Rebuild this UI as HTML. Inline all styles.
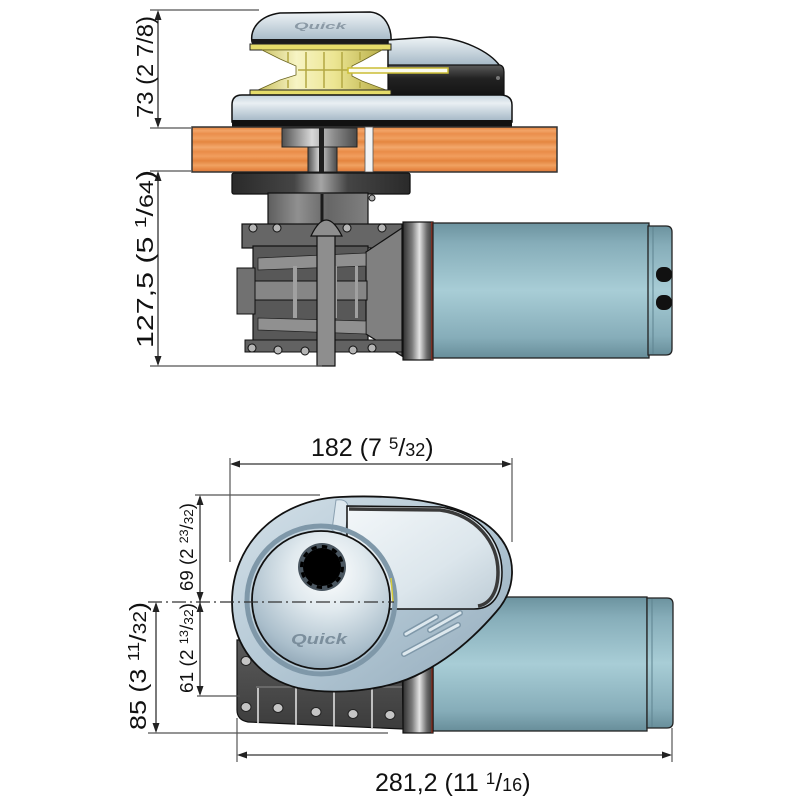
<!DOCTYPE html>
<html><head><meta charset="utf-8">
<style>html,body{margin:0;padding:0;background:#fff}svg{display:block}</style>
</head>
<body>
<svg width="800" height="800" viewBox="0 0 800 800" xmlns="http://www.w3.org/2000/svg" font-family="'Liberation Sans', Arial, sans-serif">
<defs>
 <linearGradient id="motorV" x1="0" y1="0" x2="0" y2="1">
  <stop offset="0" stop-color="#6c939f"/>
  <stop offset="0.15" stop-color="#86adb9"/>
  <stop offset="0.5" stop-color="#a8cdd6"/>
  <stop offset="0.85" stop-color="#86adb9"/>
  <stop offset="1" stop-color="#688e9a"/>
 </linearGradient>
 <linearGradient id="ringH" x1="0" y1="0" x2="1" y2="0">
  <stop offset="0" stop-color="#2f2f2f"/>
  <stop offset="0.3" stop-color="#7a7a7a"/>
  <stop offset="0.55" stop-color="#e4e4e4"/>
  <stop offset="0.8" stop-color="#6a6a6a"/>
  <stop offset="1" stop-color="#333"/>
 </linearGradient>
 <linearGradient id="flange" x1="0" y1="0" x2="1" y2="0">
  <stop offset="0" stop-color="#2a2a2a"/>
  <stop offset="0.35" stop-color="#454545"/>
  <stop offset="0.5" stop-color="#a5a5a5"/>
  <stop offset="0.65" stop-color="#454545"/>
  <stop offset="1" stop-color="#2a2a2a"/>
 </linearGradient>
 <linearGradient id="greyH" x1="0" y1="0" x2="1" y2="0">
  <stop offset="0" stop-color="#505050"/>
  <stop offset="0.4" stop-color="#d8d8d8"/>
  <stop offset="0.7" stop-color="#8a8a8a"/>
  <stop offset="1" stop-color="#4a4a4a"/>
 </linearGradient>
 <linearGradient id="neckG" x1="0" y1="0" x2="1" y2="0">
  <stop offset="0" stop-color="#5e5e5e"/>
  <stop offset="0.3" stop-color="#909090"/>
  <stop offset="0.6" stop-color="#666"/>
  <stop offset="1" stop-color="#808080"/>
 </linearGradient>
 <linearGradient id="capG" x1="0" y1="0" x2="0" y2="1">
  <stop offset="0" stop-color="#eef3f6"/>
  <stop offset="1" stop-color="#a3b7c5"/>
 </linearGradient>
 <linearGradient id="baseG" x1="0" y1="0" x2="0" y2="1">
  <stop offset="0" stop-color="#c4d3dd"/>
  <stop offset="0.3" stop-color="#e9eff3"/>
  <stop offset="1" stop-color="#a0b4c3"/>
 </linearGradient>
 <linearGradient id="darkH" x1="0" y1="0" x2="0" y2="1">
  <stop offset="0" stop-color="#5a5a5a"/>
  <stop offset="0.4" stop-color="#222"/>
  <stop offset="1" stop-color="#111"/>
 </linearGradient>
 <linearGradient id="gold" x1="0" y1="0" x2="1" y2="0">
  <stop offset="0" stop-color="#c9c060"/>
  <stop offset="0.3" stop-color="#f7f4c4"/>
  <stop offset="0.6" stop-color="#ece592"/>
  <stop offset="1" stop-color="#b5ab45"/>
 </linearGradient>
 <linearGradient id="wood" x1="0" y1="0" x2="0" y2="1">
  <stop offset="0" stop-color="#e3823c"/>
  <stop offset="0.08" stop-color="#f2a468"/>
  <stop offset="0.15" stop-color="#ea8e4c"/>
  <stop offset="0.25" stop-color="#f0a060"/>
  <stop offset="0.33" stop-color="#e58640"/>
  <stop offset="0.45" stop-color="#f3a86c"/>
  <stop offset="0.55" stop-color="#ea8c48"/>
  <stop offset="0.65" stop-color="#f19e5e"/>
  <stop offset="0.75" stop-color="#e4843e"/>
  <stop offset="0.85" stop-color="#f0a262"/>
  <stop offset="0.93" stop-color="#e88a46"/>
  <stop offset="1" stop-color="#d9783a"/>
 </linearGradient>
 <linearGradient id="houseG" x1="0" y1="0" x2="1" y2="1">
  <stop offset="0" stop-color="#d3e0e8"/>
  <stop offset="0.5" stop-color="#b4c8d5"/>
  <stop offset="1" stop-color="#93abbb"/>
 </linearGradient>
 <linearGradient id="winG" x1="0" y1="0" x2="1" y2="1">
  <stop offset="0" stop-color="#f3f7f9"/>
  <stop offset="0.6" stop-color="#dce6ec"/>
  <stop offset="1" stop-color="#bccbd5"/>
 </linearGradient>
 <radialGradient id="drum" cx="0.55" cy="0.3" r="0.8">
  <stop offset="0" stop-color="#ffffff"/>
  <stop offset="0.35" stop-color="#e0e9ee"/>
  <stop offset="0.75" stop-color="#aabecb"/>
  <stop offset="1" stop-color="#8299aa"/>
 </radialGradient>
 <linearGradient id="plateG" x1="0" y1="0" x2="0" y2="1">
  <stop offset="0" stop-color="#5a5a5a"/>
  <stop offset="1" stop-color="#3c3c3c"/>
 </linearGradient>
</defs>

<!-- ================= TOP VIEW ================= -->
<path d="M252,42 C250,30 258,16 280,13 L370,12 C385,13 392,28 391,42 Z" fill="url(#capG)" stroke="#111" stroke-width="1.5"/>
<text x="294" y="29" font-size="9" font-weight="bold" font-style="italic" fill="#8a99a5" textLength="52" lengthAdjust="spacingAndGlyphs">Quick</text>
<rect x="252" y="39" width="139" height="5" fill="#1a1a1a"/>
<path d="M388,40 L430,37 C462,37 490,52 500,66 L388,66 Z" fill="url(#capG)" stroke="#111" stroke-width="1.5"/>
<path d="M388,65 L500,65 Q504,66 504,72 L504,95 Q503,99 498,99 L388,99 Z" fill="url(#darkH)" stroke="#111" stroke-width="1.2"/>
<circle cx="498" cy="78" r="2" fill="#777"/>
<rect x="250" y="44" width="141" height="6" fill="#e5dc6a" stroke="#222" stroke-width="1"/>
<path d="M262,50 L382,50 L362,61 L352,66 L352,76 L362,81 L386,90 L258,90 L280,80 L296,75 L296,66 L280,59 Z" fill="url(#gold)" stroke="#6a6420" stroke-width="0.8"/>
<g stroke="#b3a843" stroke-width="1.5">
 <line x1="288" y1="52" x2="288" y2="62"/><line x1="306" y1="52" x2="306" y2="88"/>
 <line x1="324" y1="52" x2="324" y2="88"/><line x1="342" y1="52" x2="342" y2="88"/>
 <line x1="360" y1="52" x2="360" y2="60"/><line x1="288" y1="80" x2="288" y2="88"/>
 <line x1="360" y1="82" x2="360" y2="88"/>
 <line x1="298" y1="70" x2="350" y2="70"/>
</g>
<rect x="250" y="90" width="141" height="5" fill="#e5dc6a" stroke="#222" stroke-width="1"/>
<rect x="348" y="68" width="100" height="5" fill="#fbfbf0" stroke="#cbbd35" stroke-width="1.5"/>
<path d="M242,95 Q232,95 232,105 L232,122 L512,122 L512,105 Q512,95 500,95 Z" fill="url(#baseG)" stroke="#111" stroke-width="1.5"/>
<rect x="232" y="120" width="280" height="7" fill="#111"/>

<!-- deck -->
<rect x="192" y="127" width="365" height="45" fill="url(#wood)" stroke="#333" stroke-width="1.5"/>
<rect x="282" y="128" width="75" height="19" fill="url(#greyH)" stroke="#222" stroke-width="1"/>
<rect x="308" y="147" width="29" height="25" fill="url(#greyH)" stroke="#222" stroke-width="1"/>
<rect x="319" y="128" width="5" height="44" fill="#1e1e1e"/>
<rect x="365" y="127" width="8" height="45" fill="#f4f4f4" stroke="#555" stroke-width="0.8"/>

<!-- flange -->
<rect x="232" y="173" width="178" height="21" rx="2" fill="url(#flange)" stroke="#111" stroke-width="1.3"/>

<!-- gearbox -->
<path d="M268,193 L368,193 L368,226 L268,226 Z" fill="url(#neckG)" stroke="#111" stroke-width="1.2"/>
<line x1="322" y1="194" x2="322" y2="224" stroke="#1a1a1a" stroke-width="3"/>
<circle cx="372" cy="198" r="3" fill="#aaa" stroke="#222"/>
<rect x="242" y="224" width="160" height="24" fill="#666" stroke="#111" stroke-width="1.2"/>
<rect x="253" y="246" width="115" height="96" fill="#585858" stroke="#111" stroke-width="1.2"/>
<path d="M366,252 L402,228 L402,356 L366,334 Z" fill="#808080" stroke="#111" stroke-width="1.2"/>
<path d="M258,258 L366,253 L366,266 L258,270 Z" fill="#909090" stroke="#222" stroke-width="0.8"/>
<path d="M258,318 L366,321 L366,334 L258,330 Z" fill="#909090" stroke="#222" stroke-width="0.8"/>
<rect x="237" y="281" width="130" height="19" fill="#868686" stroke="#111" stroke-width="1"/>
<rect x="237" y="268" width="18" height="46" fill="#717171" stroke="#111" stroke-width="1"/>
<g fill="#a0a0a0">
 <rect x="293" y="266" width="4" height="52"/><rect x="333" y="266" width="4" height="52"/><rect x="355" y="266" width="3" height="52"/>
</g>
<rect x="245" y="340" width="157" height="12" fill="#626262" stroke="#111" stroke-width="1"/>
<path d="M317,226 L317,366 L335,366 L335,226 Z" fill="#8e8e8e" stroke="#111" stroke-width="1.2"/>
<path d="M311,236 Q326,204 342,236 Z" fill="#8e8e8e" stroke="#111" stroke-width="1.2"/>
<g fill="#b5b5b5" stroke="#111" stroke-width="1">
 <circle cx="253" cy="228" r="4"/><circle cx="277" cy="228" r="4"/><circle cx="347" cy="228" r="4"/><circle cx="382" cy="228" r="4"/>
 <circle cx="252" cy="348" r="4"/><circle cx="278" cy="350" r="4"/><circle cx="305" cy="351" r="4"/><circle cx="353" cy="350" r="4"/><circle cx="372" cy="348" r="4"/>
</g>

<!-- motor (top view) -->
<rect x="403" y="222" width="30" height="138" fill="url(#ringH)" stroke="#111" stroke-width="1.2"/>
<line x1="432" y1="222" x2="432" y2="360" stroke="#8b2a1a" stroke-width="1.5"/>
<rect x="433" y="223" width="216" height="135" fill="url(#motorV)" stroke="#222" stroke-width="1.3"/>
<path d="M648,226 L666,226 Q672,226 672,232 L672,349 Q672,355 666,355 L648,355 Z" fill="url(#motorV)" stroke="#222" stroke-width="1.3"/>
<line x1="653" y1="227" x2="653" y2="354" stroke="#5e8390" stroke-width="1"/>
<rect x="656" y="267" width="16" height="15" rx="7" fill="#111"/>
<rect x="656" y="295" width="16" height="15" rx="7" fill="#111"/>

<!-- ================= BOTTOM VIEW ================= -->
<rect x="433" y="597" width="214" height="134" fill="url(#motorV)" stroke="#222" stroke-width="1.3"/>
<path d="M647,598 L667,598 Q673,598 673,604 L673,722 Q673,728 667,728 L647,728 Z" fill="url(#motorV)" stroke="#222" stroke-width="1.3"/>
<line x1="652" y1="599" x2="652" y2="727" stroke="#5e8390" stroke-width="1"/>
<rect x="403" y="600" width="30" height="133" fill="url(#ringH)" stroke="#111" stroke-width="1.2"/>
<line x1="432" y1="600" x2="432" y2="733" stroke="#8b2a1a" stroke-width="1.2"/>
<path d="M237,640 L402,640 L403,729 L248,722 Q237,720 237,710 Z" fill="url(#plateG)" stroke="#111" stroke-width="1.2"/>
<line x1="256" y1="687" x2="402" y2="687" stroke="#888" stroke-width="1"/>
<g stroke="#e8e8e8" stroke-width="1.5">
 <line x1="258" y1="688" x2="258" y2="723"/><line x1="296" y1="688" x2="296" y2="725"/>
 <line x1="334" y1="688" x2="334" y2="727"/><line x1="372" y1="688" x2="372" y2="728"/>
</g>
<g fill="#c5c5c5" stroke="#222" stroke-width="1">
 <ellipse cx="246" cy="661" rx="5" ry="4.5"/><ellipse cx="246" cy="707" rx="5" ry="4.5"/>
 <ellipse cx="278" cy="708" rx="5" ry="4.5"/><ellipse cx="316" cy="712" rx="5" ry="4.5"/>
 <ellipse cx="353" cy="714" rx="5" ry="4.5"/><ellipse cx="390" cy="715" rx="5" ry="4.5"/>
</g>
<path d="M232,602 C232,545 276,500 340,497 C405,494 470,503 498,535 C518,558 516,590 496,612 C472,640 445,662 415,676 C385,690 335,696 298,688 C258,678 232,645 232,602 Z" fill="url(#houseG)" stroke="#111" stroke-width="1.8"/>
<path d="M336,500 Q350,498 348,512 L346,528 Q340,536 332,530 Z" fill="#dfe9ef" stroke="#8aa0b0" stroke-width="1"/>
<path d="M347,506 L440,507 C478,512 502,540 502,572 C502,596 492,609 474,609 L360,609 L347,540 Z" fill="url(#winG)" stroke="#111" stroke-width="1.5"/>
<path d="M349,509 L440,510 C476,515 498,542 498,572 C498,592 490,604 478,606" fill="none" stroke="#3a3a3a" stroke-width="3.5"/>
<circle cx="321" cy="600" r="74" fill="none" stroke="#7f98a9" stroke-width="5"/>
<circle cx="321" cy="600" r="69" fill="url(#drum)" stroke="#111" stroke-width="1.8"/>
<line x1="391" y1="578" x2="393" y2="602" stroke="#d8cc3a" stroke-width="1.5"/>
<circle cx="322" cy="567" r="24" fill="#4a5660"/>
<circle cx="322" cy="567" r="19" fill="#000"/>
<circle cx="322" cy="567" r="20.5" fill="none" stroke="#000" stroke-width="3" stroke-dasharray="5.4 5.3"/>
<text x="291" y="644" font-size="15" font-weight="bold" font-style="italic" fill="#7b8e9c" textLength="56" lengthAdjust="spacingAndGlyphs">Quick</text>
<g stroke-linecap="round">
 <line x1="406" y1="634" x2="436" y2="617" stroke="#7f98a9" stroke-width="6"/>
 <line x1="430" y1="630" x2="460" y2="613" stroke="#7f98a9" stroke-width="6"/>
 <line x1="404" y1="654" x2="458" y2="625" stroke="#7f98a9" stroke-width="6"/>
 <line x1="406" y1="634" x2="436" y2="617" stroke="#dde8ee" stroke-width="3"/>
 <line x1="430" y1="630" x2="460" y2="613" stroke="#dde8ee" stroke-width="3"/>
 <line x1="404" y1="654" x2="458" y2="625" stroke="#dde8ee" stroke-width="3"/>
</g>

<!-- ================= DIMENSIONS ================= -->
<g stroke="#555" stroke-width="1.2" fill="none">
 <line x1="150" y1="10" x2="259" y2="10"/>
 <line x1="150" y1="128" x2="191" y2="128"/>
 <line x1="150" y1="171" x2="191" y2="171"/>
 <line x1="150" y1="366" x2="322" y2="366"/>
 <line x1="230" y1="458" x2="230" y2="562"/>
 <line x1="512" y1="458" x2="512" y2="542"/>
 <line x1="195" y1="495" x2="320" y2="495"/>
 <line x1="197" y1="696" x2="240" y2="696"/>
 <line x1="148" y1="733" x2="388" y2="733"/>
 <line x1="237" y1="718" x2="237" y2="762"/>
 <line x1="672" y1="728" x2="672" y2="762"/>
</g>
<g stroke="#333" stroke-width="1.3">
 <line x1="158" y1="12" x2="158" y2="126"/>
 <line x1="158" y1="173" x2="158" y2="364"/>
 <line x1="232" y1="464" x2="510" y2="464"/>
 <line x1="200" y1="497" x2="200" y2="694"/>
 <line x1="156" y1="604" x2="156" y2="731"/>
 <line x1="239" y1="755" x2="670" y2="755"/>
</g>
<line x1="148" y1="602" x2="394" y2="602" stroke="#333" stroke-width="1.2" stroke-dasharray="14 4 2 4"/>
<g fill="#222">
 <polygon points="158,10 154.5,20 161.5,20"/>
 <polygon points="158,128 154.5,118 161.5,118"/>
 <polygon points="158,171 154.5,181 161.5,181"/>
 <polygon points="158,366 154.5,356 161.5,356"/>
 <polygon points="230,464 240,460.5 240,467.5"/>
 <polygon points="512,464 502,460.5 502,467.5"/>
 <polygon points="200,495 196.5,505 203.5,505"/>
 <polygon points="200,602 196.5,592 203.5,592"/>
 <polygon points="200,602 196.5,612 203.5,612"/>
 <polygon points="200,696 196.5,686 203.5,686"/>
 <polygon points="156,602 152.5,612 159.5,612"/>
 <polygon points="156,733 152.5,723 159.5,723"/>
 <polygon points="237,755 247,751.5 247,758.5"/>
 <polygon points="672,755 662,751.5 662,758.5"/>
</g>

<g fill="#111">
 <text x="311" y="456" font-size="25">182 (7 <tspan font-size="17" dy="-7">5</tspan><tspan dy="7">/</tspan><tspan font-size="18">32</tspan>)</text>
 <text x="375" y="791" font-size="25">281,2 (11 <tspan font-size="17" dy="-7">1</tspan><tspan dy="7">/</tspan><tspan font-size="18">16</tspan>)</text>
 <text transform="translate(153,67) rotate(-90)" text-anchor="middle" font-size="23" textLength="102" lengthAdjust="spacingAndGlyphs">73 (2 7/8)</text>
 <text transform="translate(153,259) rotate(-90)" text-anchor="middle" font-size="23" textLength="178" lengthAdjust="spacingAndGlyphs">127,5 (5 <tspan font-size="16" dy="-7">1</tspan><tspan dy="7">/</tspan><tspan font-size="19">64</tspan>)</text>
 <text transform="translate(146,666) rotate(-90)" text-anchor="middle" font-size="23" textLength="128" lengthAdjust="spacingAndGlyphs">85 (3 <tspan font-size="16" dy="-7">11</tspan><tspan dy="7">/</tspan><tspan font-size="18">32</tspan>)</text>
 <text transform="translate(193,547) rotate(-90)" text-anchor="middle" font-size="18" textLength="88" lengthAdjust="spacingAndGlyphs">69 (2 <tspan font-size="12" dy="-5">23</tspan><tspan dy="5">/</tspan><tspan font-size="13">32</tspan>)</text>
 <text transform="translate(193,648) rotate(-90)" text-anchor="middle" font-size="18" textLength="90" lengthAdjust="spacingAndGlyphs">61 (2 <tspan font-size="12" dy="-5">13</tspan><tspan dy="5">/</tspan><tspan font-size="13">32</tspan>)</text>
</g>
</svg>
</body></html>
